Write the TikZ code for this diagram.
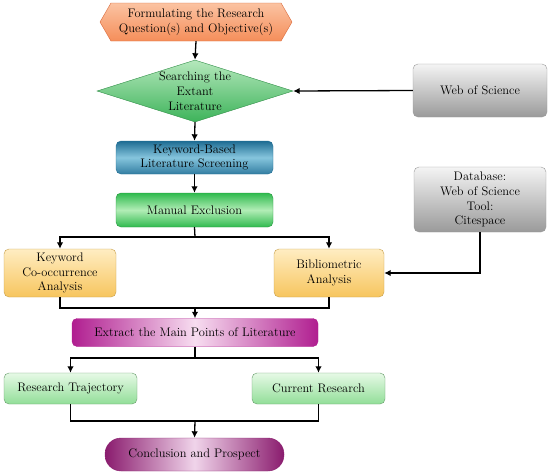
\documentclass[tikz,border=0pt]{standalone}
\usepackage{tikz}
\usetikzlibrary{shapes.geometric,shapes.symbols,arrows.meta,positioning}
\definecolor{hexfill}{HTML}{F58E5A}
\definecolor{hexlight}{HTML}{FBC3A2}
\definecolor{hexline}{HTML}{D9693A}
\definecolor{diagreen}{HTML}{3DB35A}
\definecolor{dialight}{HTML}{B5E8BC}
\definecolor{tealdark}{HTML}{1E6C93}
\definecolor{teallight}{HTML}{86C5DD}
\definecolor{mangreen}{HTML}{2FBA4E}
\definecolor{manlight}{HTML}{B2EDB6}
\definecolor{graydark}{HTML}{9A9A9A}
\definecolor{graylight}{HTML}{F4F4F4}
\definecolor{yeldark}{HTML}{F7C55E}
\definecolor{yellight}{HTML}{FFEDC2}
\definecolor{magdark}{HTML}{B01E90}
\definecolor{maglight}{HTML}{F7DDF0}
\definecolor{ltgreen}{HTML}{92DE98}
\definecolor{ltgreentop}{HTML}{E6F9E6}
\definecolor{purdark}{HTML}{8A1C6E}
\definecolor{purlight}{HTML}{F0D4EA}
\newcommand\boxfont{\fontsize{12.4}{14.8}\selectfont}
\tikzset{
  box/.style={rectangle, rounded corners=5pt, align=center, font=\boxfont, inner sep=2pt},
  hexbox/.style={signal, signal to=west and east, signal pointer angle=120, align=center,
    font=\boxfont, draw=hexline, top color=hexlight, bottom color=hexfill,
    minimum width=192pt, minimum height=38pt, inner sep=0pt},
  diabox/.style={diamond, draw=diagreen!80!black, top color=dialight, bottom color=diagreen,
    minimum width=196pt, minimum height=62pt, inner sep=0pt},
  tealbox/.style={box, draw=tealdark, top color=tealdark, bottom color=tealdark!80!teallight, middle color=teallight},
  greenbox/.style={box, draw=mangreen!80!black, top color=mangreen, bottom color=mangreen, middle color=manlight},
  graybox/.style={box, draw=graydark, top color=graylight, bottom color=graydark},
  yelbox/.style={box, draw=yeldark!80!black, top color=yellight, bottom color=yeldark},
  magbox/.style={box, draw=magdark, left color=magdark, right color=magdark, middle color=maglight},
  ltgreenbox/.style={box, draw=ltgreen!70!black, top color=ltgreentop, bottom color=ltgreen},
  purbox/.style={box, rounded corners=16pt, draw=purdark, left color=purdark, right color=purdark, middle color=purlight},
  link/.style={line width=1.3pt},
  flow/.style={link, -{Latex[length=6.5pt,width=6.5pt]}},
}
\begin{document}
\begin{tikzpicture}[x=1pt, y=-1pt]
  \useasboundingbox (0,0) rectangle (550,472);

  % --- main column ---
  \node[hexbox] (formulate) at (196,22) {Formulating the Research\\Question(s) and Objective(s)};
  \node[diabox] (search) at (195,91) {};
  \node[align=center, font=\boxfont, inner sep=0pt] (searchtxt) at (search.center) {Searching the\\Extant\\Literature};
  \node[tealbox, minimum width=157pt, minimum height=33pt] (screen) at (194.5,157.5) {Keyword-Based\\Literature Screening};
  \node[greenbox, minimum width=157pt, minimum height=34pt] (manual) at (194.5,210) {Manual Exclusion};

  % --- sources on the right ---
  \node[graybox, minimum width=134pt, minimum height=53pt] (wos) at (480,90.5) {Web of Science};
  \node[graybox, minimum width=132pt, minimum height=65pt] (database) at (480,199.5) {Database:\\Web of Science\\Tool:\\Citespace};

  % --- analyses ---
  \node[yelbox, minimum width=112pt, minimum height=48pt] (cooccur) at (60,273) {Keyword\\Co-occurrence\\Analysis};
  \node[yelbox, minimum width=110pt, minimum height=48pt] (biblio) at (329,273) {Bibliometric\\Analysis};
  \node[magbox, minimum width=246pt, minimum height=28pt] (extract) at (195,332.5) {Extract the Main Points of Literature};

  % --- results ---
  \node[ltgreenbox, minimum width=133pt, minimum height=31pt] (trajectory) at (70.5,388.5) {Research Trajectory};
  \node[ltgreenbox, minimum width=133pt, minimum height=31pt] (current) at (318.5,388.5) {Current Research};
  \node[purbox, minimum width=179pt, minimum height=33pt] (conclusion) at (194.5,454.5) {Conclusion and Prospect};

  % --- junction points ---
  \coordinate (split1) at (195,237);
  \coordinate (merge1) at (195,308);
  \coordinate (split2) at (195,358);
  \coordinate (merge2) at (195,421);

  % --- connectors ---
  \draw[flow] (formulate.south) -- (search.north);
  \draw[flow] (wos.west) -- (search.east);
  \draw[flow] (search.south) -- (screen.north);
  \draw[flow] (screen.south) -- (manual.north);
  \draw[link] (manual.south) -- (split1);
  \draw[flow] (split1) -| (cooccur.north);
  \draw[flow] (split1) -| (biblio.north);
  \draw[flow] (database.south) |- (biblio.east);
  \draw[link] (cooccur.south) |- (merge1) -| (biblio.south);
  \draw[flow] (merge1) -- (extract.north);
  \draw[link] (extract.south) -- (split2);
  \draw[flow] (split2) -| (trajectory.north);
  \draw[flow] (split2) -| (current.north);
  \draw[link] (trajectory.south) |- (merge2) -| (current.south);
  \draw[flow] (merge2) -- (conclusion.north);
\end{tikzpicture}
\end{document}
